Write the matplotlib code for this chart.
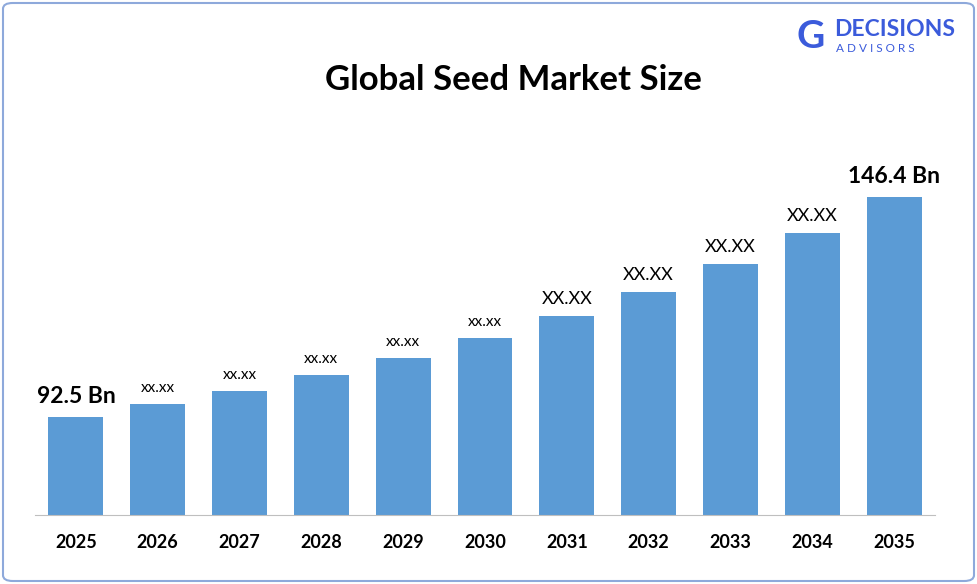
import matplotlib
matplotlib.use("Agg")
import matplotlib.pyplot as plt
from matplotlib.patches import FancyBboxPatch

plt.rcParams['font.family'] = ['Lato', 'DejaVu Sans']

years = ["2025","2026","2027","2028","2029","2030","2031","2032","2033","2034","2035"]
values = [92.5, 95.7, 98.9, 102.8, 107.0, 111.9, 117.2, 123.1, 130.0, 137.6, 146.4]
labels = ["92.5 Bn","xx.xx","xx.xx","xx.xx","xx.xx","xx.xx","XX.XX","XX.XX","XX.XX","XX.XX","146.4 Bn"]

W, H = 977, 584
fig = plt.figure(figsize=(W/100, H/100), dpi=100)
fig.patches.append(FancyBboxPatch((3/W, 3/H), 1-6/W, 1-6/H, boxstyle="round,pad=0,rounding_size=0.01",
                                  transform=fig.transFigure, fill=False, ec="#8EA9DB", lw=1.5))
ax = fig.add_axes([35/W, (H-515)/H, 900/W, 415/H])
ymin = 68.5
ax.bar(years, [v - ymin for v in values], bottom=ymin, width=0.67, color="#5B9BD5")
ax.set_ylim(ymin, ymin + 415*0.245)
ax.set_xlim(-0.5, len(years)-0.5)
for i, (v, l) in enumerate(zip(values, labels)):
    if i in (0, len(years)-1):
        fs, fw, off = 16.5, "bold", 2.5
    elif i >= 6:
        fs, fw, off = 13, "normal", 2.2
    else:
        fs, fw, off = 11, "normal", 2.2
    ax.text(i, v + off, l, ha="center", va="bottom", fontsize=fs, fontweight=fw)
for s in ["top", "right", "left"]:
    ax.spines[s].set_visible(False)
ax.spines["bottom"].set_color("#BFBFBF")
ax.set_yticks([])
ax.tick_params(axis="x", length=0, pad=14, labelsize=13)
for t in ax.get_xticklabels():
    t.set_fontweight("bold")
fig.text(513/W, 1-80/H, "Global Seed Market Size", ha="center", va="center", fontsize=25, fontweight="bold")
fig.text(834/W, 1-30/H, "DECISIONS", ha="left", va="center", fontsize=16.5, fontweight="bold", color="#3B5BDB")
fig.text(836/W, 1-49/H, "A D V I S O R S", ha="left", va="center", fontsize=8.5, color="#3B5BDB")
fig.text(797/W, 1-37/H, "G", ha="left", va="center", fontsize=28, fontweight="bold", color="#3B5BDB")
fig.savefig("out.png", dpi=100)
